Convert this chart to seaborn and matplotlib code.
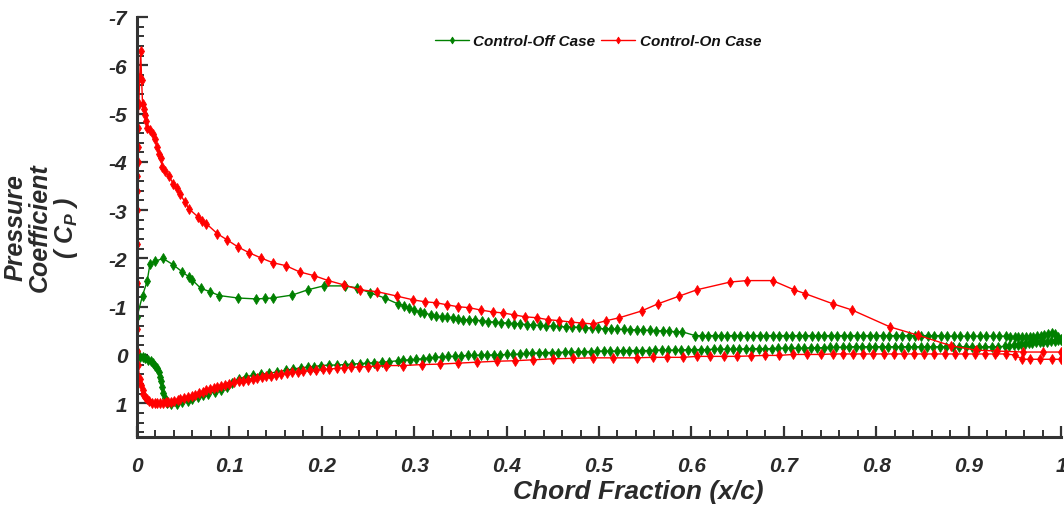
import numpy as np
import pandas as pd
import matplotlib
matplotlib.use("Agg")
import matplotlib.pyplot as plt
import seaborn as sns
from matplotlib.ticker import MultipleLocator, FixedLocator, FixedFormatter

# ---------------- data ----------------
case_names = ["Control-Off Case", "Control-On Case"]

# Control-Off, upper surface (LE -> TE)
off_up_x = [0.000, 0.006, 0.011, 0.014, 0.020, 0.028, 0.039, 0.049, 0.056, 0.060,
            0.069, 0.079, 0.089, 0.109, 0.129, 0.139, 0.147, 0.168, 0.185, 0.202,
            0.225, 0.238, 0.252, 0.268, 0.282, 0.289, 0.294, 0.300, 0.306, 0.311,
            0.318, 0.324, 0.330, 0.336, 0.342, 0.347, 0.353, 0.359, 0.366, 0.373,
            0.380, 0.387, 0.394, 0.401, 0.408, 0.415, 0.422, 0.429, 0.436, 0.443,
            0.450, 0.457, 0.464, 0.471, 0.478, 0.485, 0.492, 0.499, 0.506, 0.513,
            0.520, 0.527, 0.534, 0.541, 0.548, 0.555, 0.562, 0.569, 0.576, 0.583,
            0.590, 0.604, 0.611, 0.618, 0.625, 0.632, 0.639, 0.646, 0.653, 0.660,
            0.667, 0.674, 0.681, 0.688, 0.695, 0.702, 0.709, 0.716, 0.723, 0.730,
            0.737, 0.744, 0.751, 0.758, 0.765, 0.772, 0.779, 0.786, 0.793, 0.800,
            0.807, 0.814, 0.821, 0.828, 0.835, 0.842, 0.849, 0.856, 0.863, 0.870,
            0.877, 0.884, 0.891, 0.898, 0.905, 0.912, 0.919, 0.926, 0.933, 0.940,
            0.945, 0.950, 0.954, 0.958, 0.962, 0.966, 0.970, 0.974, 0.978, 0.982,
            0.986, 0.990, 0.994, 0.997, 1.000]
off_up_cp = [-0.79, -1.23, -1.53, -1.88, -1.94, -2.00, -1.87, -1.72, -1.62, -1.55,
             -1.38, -1.31, -1.23, -1.18, -1.16, -1.17, -1.18, -1.24, -1.35, -1.43,
             -1.43, -1.39, -1.29, -1.18, -1.06, -1.02, -0.98, -0.93, -0.89, -0.87,
             -0.83, -0.81, -0.79, -0.79, -0.77, -0.75, -0.73, -0.73, -0.72, -0.71,
             -0.69, -0.68, -0.67, -0.66, -0.65, -0.64, -0.63, -0.62, -0.61, -0.60,
             -0.60, -0.59, -0.58, -0.58, -0.57, -0.56, -0.56, -0.55, -0.54, -0.54,
             -0.53, -0.53, -0.52, -0.52, -0.51, -0.51, -0.50, -0.50, -0.49, -0.48,
             -0.48, -0.40, -0.40, -0.40, -0.40, -0.40, -0.40, -0.40, -0.40, -0.40,
             -0.40, -0.40, -0.40, -0.40, -0.40, -0.40, -0.40, -0.40, -0.40, -0.40,
             -0.40, -0.40, -0.40, -0.40, -0.40, -0.40, -0.40, -0.40, -0.40, -0.40,
             -0.40, -0.40, -0.40, -0.40, -0.40, -0.40, -0.40, -0.40, -0.40, -0.40,
             -0.39, -0.39, -0.39, -0.39, -0.39, -0.39, -0.39, -0.39, -0.39, -0.39,
             -0.38, -0.38, -0.37, -0.37, -0.37, -0.38, -0.38, -0.39, -0.40, -0.42,
             -0.44, -0.45, -0.43, -0.38, -0.32]

# Control-Off, lower surface (LE -> TE)
off_lo_x = [0.000, 0.003, 0.006, 0.009, 0.012, 0.015, 0.017, 0.020, 0.022, 0.024,
            0.025, 0.026, 0.027, 0.028, 0.030, 0.033, 0.037, 0.043, 0.049, 0.055,
            0.060, 0.066, 0.071, 0.077, 0.084, 0.091, 0.097, 0.103, 0.110, 0.118,
            0.126, 0.134, 0.143, 0.152, 0.161, 0.169, 0.177, 0.185, 0.192, 0.199,
            0.208, 0.216, 0.225, 0.233, 0.241, 0.249, 0.257, 0.265, 0.273, 0.282,
            0.288, 0.295, 0.302, 0.309, 0.316, 0.323, 0.330, 0.337, 0.344, 0.351,
            0.358, 0.365, 0.372, 0.379, 0.386, 0.393, 0.400, 0.407, 0.414, 0.421,
            0.428, 0.435, 0.442, 0.449, 0.456, 0.463, 0.470, 0.477, 0.484, 0.491,
            0.498, 0.505, 0.512, 0.519, 0.526, 0.533, 0.540, 0.547, 0.554, 0.561,
            0.568, 0.575, 0.582, 0.589, 0.596, 0.603, 0.610, 0.617, 0.624, 0.631,
            0.638, 0.645, 0.652, 0.659, 0.666, 0.673, 0.680, 0.687, 0.694, 0.701,
            0.708, 0.715, 0.722, 0.729, 0.736, 0.743, 0.750, 0.757, 0.764, 0.771,
            0.778, 0.785, 0.792, 0.799, 0.806, 0.813, 0.820, 0.827, 0.834, 0.841,
            0.848, 0.855, 0.862, 0.869, 0.876, 0.883, 0.890, 0.897, 0.904, 0.911,
            0.918, 0.925, 0.932, 0.939, 0.944, 0.949, 0.953, 0.957, 0.961, 0.965,
            0.969, 0.973, 0.977, 0.981, 0.985, 0.989, 0.993, 0.997, 1.000]
off_lo_cp = [-0.08, 0.04, 0.04, 0.06, 0.10, 0.13, 0.17, 0.22, 0.27, 0.36,
             0.45, 0.55, 0.66, 0.78, 0.90, 0.99, 1.02, 1.01, 0.98, 0.95,
             0.92, 0.88, 0.84, 0.80, 0.77, 0.72, 0.66, 0.58, 0.50, 0.45,
             0.42, 0.40, 0.38, 0.35, 0.32, 0.29, 0.27, 0.25, 0.24, 0.22,
             0.21, 0.21, 0.20, 0.19, 0.18, 0.17, 0.16, 0.15, 0.14, 0.12,
             0.11, 0.10, 0.09, 0.08, 0.06, 0.05, 0.04, 0.03, 0.03, 0.02,
             0.01, 0.01, 0.00, 0.00, 0.00, 0.00, -0.01, -0.01, -0.02, -0.03,
             -0.04, -0.04, -0.05, -0.05, -0.05, -0.06, -0.06, -0.06, -0.07, -0.07,
             -0.08, -0.08, -0.08, -0.08, -0.09, -0.09, -0.09, -0.09, -0.09, -0.10,
             -0.10, -0.10, -0.10, -0.10, -0.11, -0.11, -0.11, -0.11, -0.12, -0.12,
             -0.12, -0.12, -0.12, -0.13, -0.13, -0.13, -0.13, -0.13, -0.14, -0.14,
             -0.14, -0.14, -0.14, -0.15, -0.15, -0.15, -0.16, -0.16, -0.16, -0.17,
             -0.17, -0.17, -0.17, -0.17, -0.17, -0.17, -0.17, -0.17, -0.17, -0.17,
             -0.17, -0.17, -0.17, -0.17, -0.17, -0.17, -0.17, -0.17, -0.17, -0.17,
             -0.17, -0.17, -0.17, -0.18, -0.19, -0.20, -0.21, -0.22, -0.23, -0.24,
             -0.25, -0.26, -0.26, -0.27, -0.27, -0.28, -0.29, -0.30, -0.31]

# Control-On, upper surface (LE -> TE)
on_up_x = [0.000, 0.000, 0.000, 0.000, 0.000, 0.000, 0.001, 0.001, 0.001, 0.002,
           0.003, 0.004, 0.005, 0.006, 0.008, 0.009, 0.010, 0.011, 0.014, 0.017,
           0.019, 0.022, 0.024, 0.026, 0.027, 0.030, 0.035, 0.039, 0.043, 0.046,
           0.052, 0.056, 0.066, 0.070, 0.075, 0.087, 0.097, 0.109, 0.121, 0.134,
           0.147, 0.161, 0.176, 0.192, 0.207, 0.224, 0.241, 0.260, 0.281, 0.299,
           0.312, 0.324, 0.335, 0.347, 0.359, 0.372, 0.385, 0.396, 0.408, 0.420,
           0.433, 0.445, 0.457, 0.470, 0.482, 0.494, 0.508, 0.522, 0.546, 0.564,
           0.587, 0.606, 0.642, 0.660, 0.688, 0.711, 0.723, 0.753, 0.774, 0.815,
           0.845, 0.881, 0.908, 0.931, 0.959, 0.981, 1.000]
on_up_cp = [-0.54, -1.50, -2.30, -3.00, -3.40, -3.70, -4.00, -4.30, -4.70, -5.20,
            -5.75, -6.30, -5.70, -5.20, -5.10, -4.97, -4.85, -4.70, -4.65, -4.58,
            -4.48, -4.30, -4.17, -4.07, -3.90, -3.80, -3.70, -3.55, -3.45, -3.34,
            -3.17, -3.03, -2.86, -2.78, -2.72, -2.51, -2.39, -2.24, -2.12, -2.01,
            -1.91, -1.85, -1.72, -1.64, -1.54, -1.45, -1.35, -1.31, -1.22, -1.14,
            -1.10, -1.08, -1.04, -1.00, -0.98, -0.93, -0.89, -0.87, -0.83, -0.79,
            -0.77, -0.73, -0.71, -0.68, -0.66, -0.64, -0.71, -0.77, -0.91, -1.06,
            -1.22, -1.35, -1.51, -1.54, -1.54, -1.35, -1.27, -1.06, -0.93, -0.58,
            -0.41, -0.19, -0.10, -0.08, -0.06, -0.06, -0.06]

# Control-On, lower surface (LE -> TE)
on_lo_x = [0.000, 0.001, 0.003, 0.004, 0.006, 0.007, 0.009, 0.011, 0.013, 0.016,
           0.019, 0.022, 0.025, 0.028, 0.031, 0.034, 0.037, 0.040, 0.044, 0.047,
           0.051, 0.055, 0.059, 0.063, 0.067, 0.071, 0.075, 0.079, 0.083, 0.087,
           0.091, 0.095, 0.100, 0.105, 0.110, 0.115, 0.120, 0.125, 0.130, 0.135,
           0.140, 0.145, 0.150, 0.156, 0.162, 0.168, 0.174, 0.180, 0.187, 0.194,
           0.201, 0.208, 0.216, 0.224, 0.232, 0.240, 0.250, 0.260, 0.270, 0.288,
           0.308, 0.328, 0.347, 0.368, 0.390, 0.409, 0.429, 0.450, 0.472, 0.494,
           0.515, 0.541, 0.558, 0.574, 0.591, 0.606, 0.620, 0.635, 0.649, 0.664,
           0.680, 0.695, 0.710, 0.725, 0.740, 0.753, 0.764, 0.775, 0.786, 0.797,
           0.808, 0.819, 0.830, 0.841, 0.852, 0.863, 0.874, 0.885, 0.896, 0.907,
           0.918, 0.929, 0.940, 0.950, 0.958, 0.966, 0.977, 0.990, 1.000]
on_lo_cp = [-0.08, 0.20, 0.50, 0.62, 0.72, 0.80, 0.87, 0.92, 0.96, 0.99,
            1.00, 1.00, 1.00, 0.99, 0.98, 0.98, 0.97, 0.95, 0.93, 0.91,
            0.89, 0.87, 0.85, 0.82, 0.79, 0.76, 0.73, 0.71, 0.68, 0.66,
            0.64, 0.62, 0.60, 0.57, 0.55, 0.53, 0.51, 0.49, 0.47, 0.46,
            0.44, 0.43, 0.41, 0.40, 0.38, 0.36, 0.35, 0.34, 0.32, 0.31,
            0.30, 0.29, 0.28, 0.27, 0.26, 0.25, 0.24, 0.23, 0.22, 0.22,
            0.20, 0.19, 0.17, 0.15, 0.13, 0.12, 0.10, 0.08, 0.07, 0.06,
            0.06, 0.06, 0.05, 0.05, 0.05, 0.03, 0.03, 0.03, 0.03, 0.02,
            0.01, 0.01, -0.01, -0.01, -0.01, -0.02, -0.02, -0.02, -0.02, -0.02,
            -0.02, -0.02, -0.02, -0.02, -0.02, -0.02, -0.02, -0.02, -0.02, -0.02,
            -0.02, -0.02, -0.02, 0.00, 0.09, 0.09, 0.09, 0.09, 0.09]

x_ticks = [0, 0.1, 0.2, 0.3, 0.4, 0.5, 0.6, 0.7, 0.8, 0.9, 1]
x_tick_labels = ["0", "0.1", "0.2", "0.3", "0.4", "0.5", "0.6", "0.7", "0.8", "0.9", "1"]
y_ticks = [-7, -6, -5, -4, -3, -2, -1, 0, 1]
y_tick_labels = ["-7", "-6", "-5", "-4", "-3", "-2", "-1", "0", "1"]

# ---------------- build long table (closed loop: TE upper -> LE -> TE lower) ----------------
def loop(xu, cu, xl, cl, name):
    xs = list(reversed(xu)) + list(xl)
    cs = list(reversed(cu)) + list(cl)
    return pd.DataFrame({"x": xs, "cp": cs, "case": name, "order": range(len(xs))})

df = pd.concat([loop(off_up_x, off_up_cp, off_lo_x, off_lo_cp, case_names[0]),
                loop(on_up_x, on_up_cp, on_lo_x, on_lo_cp, case_names[1])],
               ignore_index=True)

# ---------------- style ----------------
sns.set_theme(style="white")
plt.rcParams["font.family"] = ["Liberation Sans", "DejaVu Sans"]
plt.rcParams["axes.unicode_minus"] = False
plt.rcParams["mathtext.fontset"] = "custom"
plt.rcParams["mathtext.it"] = "Liberation Sans:italic:bold"
plt.rcParams["mathtext.rm"] = "Liberation Sans:italic:bold"

palette = {case_names[0]: "#008000", case_names[1]: "#ff0000"}

fig = plt.figure(figsize=(10.64, 5.06), dpi=100)
ax = fig.add_axes([137 / 1064, 68 / 506, 924 / 1064, 420 / 506])

sns.lineplot(data=df, x="x", y="cp", hue="case", palette=palette, sort=False,
             estimator=None, marker="d", markersize=5, linewidth=1.0, ax=ax)
for ln in ax.lines:
    ln.set_markeredgecolor(ln.get_color())
    ln.set_markerfacecolor(ln.get_color())
    ln.set_markeredgewidth(0.6)

ax.set_xlim(0, 1)
ax.set_ylim(1.7, -7)

ax.xaxis.set_major_locator(FixedLocator(x_ticks))
ax.xaxis.set_major_formatter(FixedFormatter(x_tick_labels))
ax.xaxis.set_minor_locator(MultipleLocator(0.02))
ax.yaxis.set_major_locator(FixedLocator(y_ticks))
ax.yaxis.set_major_formatter(FixedFormatter(y_tick_labels))
ax.yaxis.set_minor_locator(MultipleLocator(0.2))

spine_col = "#333333"
for s in ["top", "right"]:
    ax.spines[s].set_visible(False)
for s in ["left", "bottom"]:
    ax.spines[s].set_color(spine_col)
    ax.spines[s].set_linewidth(2.2)

ax.tick_params(which="major", direction="in", length=8, width=1.6, color=spine_col,
               labelsize=15, labelcolor="#2a2a2a")
ax.tick_params(which="minor", direction="in", length=5, width=1.4, color=spine_col)
ax.tick_params(axis="x", which="both", bottom=True, pad=14)
ax.tick_params(axis="y", which="both", left=True, pad=7)
for lab in ax.get_xticklabels() + ax.get_yticklabels():
    lab.set_fontweight("bold")
    lab.set_fontstyle("italic")

ax.set_xlabel("Chord Fraction (x/c)", fontsize=19, fontweight="bold",
              fontstyle="italic", color="#2a2a2a")
ax.xaxis.set_label_coords(0.542, -0.101)
ax.set_ylabel("Pressure\nCoefficient\n( $C_P$ )", fontsize=18, fontweight="bold",
              fontstyle="italic", color="#2a2a2a", multialignment="center",
              linespacing=1.0)
ax.yaxis.set_label_coords(-0.062, 0.5)

handles, labels = ax.get_legend_handles_labels()
leg = ax.legend(handles, labels, loc="center", bbox_to_anchor=(0.499, 0.943), ncol=2,
                frameon=False, handlelength=2.2, handletextpad=0.3, columnspacing=0.4,
                prop={"family": ["Liberation Sans", "DejaVu Sans"], "weight": "bold",
                      "style": "italic", "size": 11})
for t in leg.get_texts():
    t.set_color("#111111")
for h in leg.legend_handles:
    h.set_markersize(3.5)

fig.savefig("out.png", dpi=100)
